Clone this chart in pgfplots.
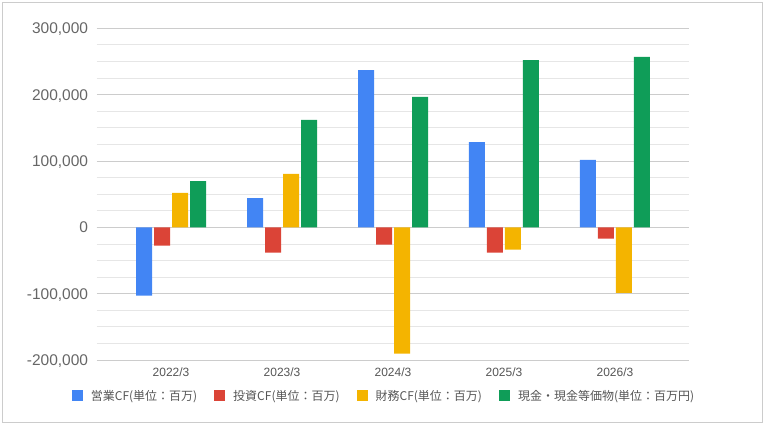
\documentclass[border=0pt]{standalone}
\usepackage{fontspec}
\setmainfont{Liberation Sans}
\newfontfamily\jp{Noto Sans CJK JP}
\usepackage{pgfplots}
\pgfplotsset{compat=1.18}
\definecolor{gblue}{HTML}{4285F4}
\definecolor{gred}{HTML}{DB4437}
\definecolor{gyellow}{HTML}{F4B400}
\definecolor{ggreen}{HTML}{0F9D58}
\definecolor{majgrid}{HTML}{CCCCCC}
\definecolor{mingrid}{HTML}{E6E6E6}
\definecolor{ylab}{HTML}{666666}
\definecolor{xlab}{HTML}{555555}
\begin{document}
\begin{tikzpicture}
\path[use as bounding box] (-96.7pt,-66pt) rectangle (669.3pt,360pt);
\draw[color=majgrid, line width=0.8pt] (-94.2pt,-62pt) rectangle (665.8pt,358pt);
\begin{axis}[
  at={(0pt,0pt)}, anchor=south west,
  scale only axis, width=592.6pt, height=331.7pt,
  ybar=2pt, bar width=16pt,
  xmin=-0.67, xmax=4.67,
  ymin=-200000, ymax=300000,
  scaled y ticks=false,
  axis line style={draw=none},
  major tick length=0pt, minor tick length=0pt,
  xtick={0,1,2,3,4},
  xticklabels={2022/3,2023/3,2024/3,2025/3,2026/3},
  ytick={-200000,-100000,0,100000,200000,300000},
  yticklabels={{-200,000},{-100,000},{0},{100,000},{200,000},{300,000}},
  minor y tick num=3,
  ymajorgrids, yminorgrids,
  major grid style={color=majgrid, line width=0.8pt},
  minor grid style={color=mingrid, line width=0.8pt},
  extra y ticks={0}, extra y tick labels={},
  extra y tick style={grid style={color=black!80, line width=1pt}},
  yticklabel style={anchor=base east, inner sep=0pt, xshift=-8.4pt, yshift=-5.55pt,
     font=\fontsize{15.5}{18}\selectfont, text=ylab},
  xticklabel style={anchor=base, inner sep=0pt, yshift=-16pt,
     font=\fontsize{12}{14}\selectfont, text=xlab},
  legend columns=4,
  legend style={at={(0.4848,-0.1085)}, anchor=center, draw=none, fill=none,
     font=\jp\fontsize{12}{14}\selectfont, text=xlab,
     /tikz/every odd column/.append style={column sep=6pt},
     /tikz/every even column/.append style={column sep=15pt}},
  legend image code/.code={\fill[#1] (0pt,-5.5pt) rectangle (11pt,5.5pt);},
]
\addplot[fill=gblue, draw=none] coordinates {(0,-103000) (1,44200) (2,237000) (3,128600) (4,101500)};
\addplot[fill=gred, draw=none] coordinates {(0,-27600) (1,-38200) (2,-26000) (3,-38200) (4,-17000)};
\addplot[fill=gyellow, draw=none] coordinates {(0,51800) (1,80400) (2,-190500) (3,-33700) (4,-99000)};
\addplot[fill=ggreen, draw=none] coordinates {(0,69800) (1,161800) (2,196500) (3,252000) (4,256800)};
\legend{営業CF(単位：百万),投資CF(単位：百万),財務CF(単位：百万),現金・現金等価物(単位：百万円)}
\end{axis}
\end{tikzpicture}
\end{document}
